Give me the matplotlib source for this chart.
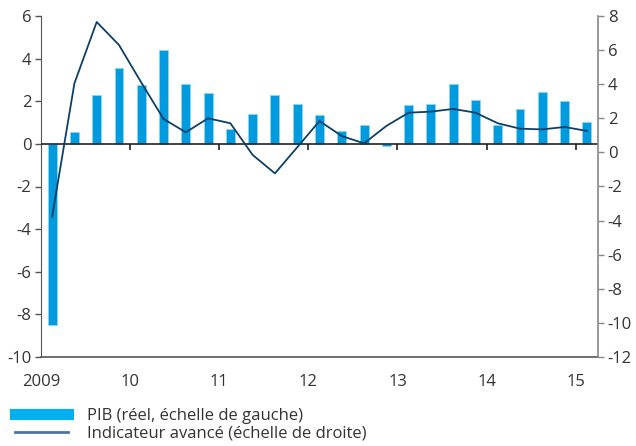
import matplotlib
matplotlib.use("Agg")
import matplotlib.pyplot as plt
from matplotlib.lines import Line2D
import numpy as np

plt.rcParams['font.family'] = ['Open Sans', 'DejaVu Sans']

year_labels = ["2009", "10", "11", "12", "13", "14", "15"]
pib = [-8.5, 0.55, 2.27, 3.54, 2.77, 4.41, 2.82, 2.41,
       0.69, 1.39, 2.31, 1.88, 1.36, 0.61, 0.89, -0.12,
       1.83, 1.88, 2.80, 2.07, 0.88, 1.64, 2.44, 2.00, 1.02]
indicateur = [-3.77, 4.05, 7.65, 6.3, 4.1, 1.96, 1.18, 2.0,
              1.71, -0.15, -1.23, 0.3, 1.84, 0.96, 0.53, 1.55,
              2.33, 2.39, 2.55, 2.33, 1.71, 1.39, 1.35, 1.49, 1.26]
left_ticks = [-10, -8, -6, -4, -2, 0, 2, 4, 6]
right_ticks = [-12, -10, -8, -6, -4, -2, 0, 2, 4, 6, 8]

bar_color = "#009ADE"
line_color = "#0E3F66"
text_color = "#333333"

fig = plt.figure(figsize=(6.36, 4.46), dpi=100)
ax = fig.add_axes([41/636, 1-357/446, (598-41)/636, (357-16)/446])
ax2 = ax.twinx()

x = np.arange(len(pib)) + 0.5
ax.bar(x, pib, width=0.4, color=bar_color, edgecolor="#8fd6f5", linewidth=0.6, zorder=2)
ax.set_xlim(0, len(pib))
ax.set_ylim(-10, 6)
ax.set_yticks(left_ticks)
ax.set_yticklabels([str(t) for t in left_ticks])

year_pos = np.arange(len(year_labels)) * 4
ax.set_xticks(year_pos)
ax.set_xticklabels(year_labels)
ax.tick_params(axis='x', length=0, pad=12, labelsize=12, colors=text_color)
ax.tick_params(axis='y', length=4, width=1, direction='out', labelsize=12,
               colors=text_color, pad=3)
ax.tick_params(axis='y', color="#555555")

ax.axhline(0, color="#222222", linewidth=1.2, zorder=3)
ax.plot(year_pos[1:], np.zeros(len(year_pos) - 1), linestyle='none', marker=3,
        markersize=4, markeredgewidth=1.2, color="#222222", zorder=3)

ax2.plot(x, indicateur, color=line_color, linewidth=1.3, zorder=4)
ax2.set_ylim(-12, 8)
ax2.set_yticks(right_ticks)
ax2.set_yticklabels([str(t) for t in right_ticks])
ax2.tick_params(axis='y', length=4, width=1, direction='out', labelsize=12,
                colors=text_color, pad=3)
ax2.tick_params(axis='y', color="#888888")

for a in (ax, ax2):
    a.spines['top'].set_visible(False)
ax.spines['right'].set_visible(False)
ax2.spines['left'].set_visible(False)
ax2.spines['bottom'].set_visible(False)
ax.spines['left'].set_color("#555555")
ax.spines['bottom'].set_color("#555555")
ax.spines['bottom'].set_linewidth(1.2)
ax2.spines['right'].set_color("#888888")
ax2.spines['right'].set_linewidth(1.2)
ax.set_zorder(ax2.get_zorder() - 1)
ax.patch.set_visible(False)
ax2.patch.set_visible(False)

handles = [Line2D([0], [0], color="#00B0F0", linewidth=8),
           Line2D([0], [0], color="#4F74A3", linewidth=2)]
labels = ["PIB (réel, échelle de gauche)", "Indicateur avancé (échelle de droite)"]
fig.legend(handles, labels, loc='upper left', bbox_to_anchor=(0.005, 1-396/446),
           frameon=False, fontsize=12, handlelength=3.2, handletextpad=1.1,
           labelspacing=0.12, labelcolor=text_color, borderaxespad=0.3)

fig.savefig("out.png", dpi=100)
